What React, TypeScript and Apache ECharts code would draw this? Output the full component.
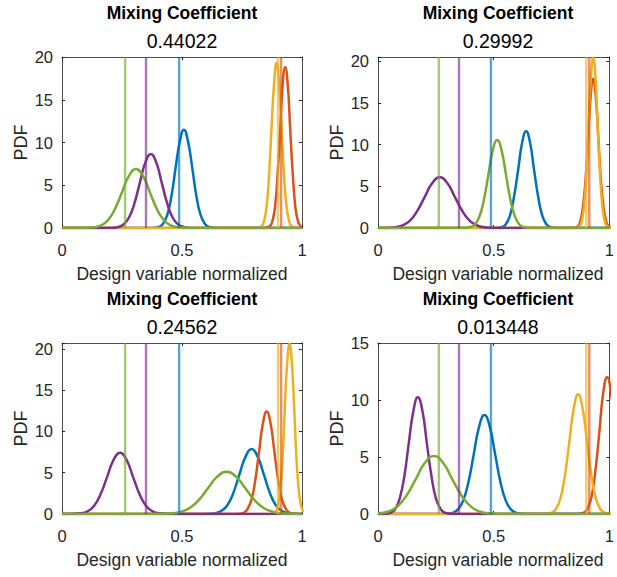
import React, { useEffect, useRef } from "react";
import * as echarts from "echarts";

// ---------- data ----------
const titleValues = ["0.44022", "0.29992", "0.24562", "0.013448"];
const yMaxes = [20, 20.5, 20.7, 15];
const xTickStep = 0.5;
const yTickStep = 5;
const curveColors = ["#0072BD", "#D95319", "#EDB120", "#7E2F8E", "#77AC30"]; // blue, red, yellow, purple, green
const refLines = [0.488, 0.913, 0.9, 0.35, 0.263]; // same order as curveColors

// Panel 1
const p1Blue = [[0, 0], [0.369, 0], [0.404, 0.13], [0.421, 0.5], [0.439, 1.56], [0.456, 3.73], [0.473, 6.97], [0.491, 10.15], [0.508, 11.5], [0.525, 10.15], [0.543, 6.97], [0.56, 3.73], [0.577, 1.56], [0.595, 0.5], [0.612, 0.13], [0.647, 0], [1, 0]];
const p1Red = [[0, 0], [0.845, 0], [0.866, 0.21], [0.877, 0.83], [0.888, 2.54], [0.898, 6.11], [0.909, 11.41], [0.919, 16.6], [0.93, 18.8], [0.941, 16.6], [0.951, 11.41], [0.962, 6.11], [0.972, 2.54], [0.983, 0.83], [0.994, 0.21], [1, 0.08]];
const p1Yellow = [[0, 0], [0.811, 0], [0.832, 0.21], [0.842, 0.85], [0.853, 2.61], [0.863, 6.27], [0.873, 11.72], [0.884, 17.04], [0.894, 19.3], [0.904, 17.04], [0.915, 11.72], [0.925, 6.27], [0.935, 2.61], [0.946, 0.85], [0.956, 0.21], [0.977, 0], [1, 0]];
const p1Purple = [[0, 0], [0.186, 0], [0.232, 0.1], [0.255, 0.38], [0.278, 1.17], [0.301, 2.81], [0.324, 5.25], [0.347, 7.64], [0.37, 8.65], [0.393, 7.64], [0.416, 5.25], [0.439, 2.81], [0.462, 1.17], [0.485, 0.38], [0.508, 0.1], [0.554, 0], [1, 0]];
const p1Green = [[0, 0], [0.077, 0], [0.135, 0.08], [0.163, 0.3], [0.192, 0.93], [0.221, 2.24], [0.25, 4.19], [0.279, 6.09], [0.308, 6.9], [0.337, 6.09], [0.366, 4.19], [0.395, 2.24], [0.424, 0.93], [0.453, 0.3], [0.481, 0.08], [0.539, 0], [1, 0]];

// Panel 2
const p2Blue = [[0, 0], [0.502, 0], [0.537, 0.13], [0.554, 0.51], [0.571, 1.57], [0.588, 3.77], [0.606, 7.04], [0.623, 10.24], [0.64, 11.6], [0.657, 10.24], [0.674, 7.04], [0.692, 3.77], [0.709, 1.57], [0.726, 0.51], [0.743, 0.13], [0.778, 0], [1, 0]];
const p2Red = [[0, 0], [0.841, 0], [0.863, 0.2], [0.874, 0.79], [0.885, 2.42], [0.897, 5.82], [0.908, 10.87], [0.919, 15.81], [0.93, 17.9], [0.941, 15.81], [0.952, 10.87], [0.963, 5.82], [0.975, 2.42], [0.986, 0.79], [0.997, 0.2], [1.019, 0]];
const p2Yellow = [[0, 0], [0.852, 0], [0.871, 0.23], [0.881, 0.9], [0.891, 2.75], [0.901, 6.63], [0.91, 12.38], [0.92, 18.01], [0.93, 20.4], [0.94, 18.01], [0.949, 12.38], [0.959, 6.63], [0.969, 2.75], [0.979, 0.9], [0.989, 0.23], [1.008, 0]];
const p2Purple = [[0, 0], [0.07, 0.07], [0.103, 0.27], [0.136, 0.82], [0.168, 1.97], [0.201, 3.68], [0.234, 5.36], [0.267, 6.07], [0.3, 5.36], [0.333, 3.68], [0.366, 1.97], [0.398, 0.82], [0.431, 0.27], [0.464, 0.07], [0.53, 0], [1, 0]];
const p2Green = [[0, 0], [0.363, 0], [0.401, 0.12], [0.42, 0.46], [0.439, 1.43], [0.458, 3.43], [0.477, 6.4], [0.496, 9.31], [0.515, 10.54], [0.534, 9.31], [0.553, 6.4], [0.572, 3.43], [0.591, 1.43], [0.61, 0.46], [0.629, 0.12], [0.667, 0], [1, 0]];

// Panel 3
const p3Blue = [[0, 0], [0.587, 0], [0.638, 0.09], [0.663, 0.35], [0.689, 1.06], [0.714, 2.56], [0.739, 4.78], [0.765, 6.95], [0.79, 7.87], [0.815, 6.95], [0.841, 4.78], [0.866, 2.56], [0.891, 1.06], [0.917, 0.35], [0.942, 0.09], [0.993, 0], [1, 0]];
const p3Red = [[0, 0], [0.724, 0], [0.756, 0.14], [0.772, 0.55], [0.789, 1.67], [0.805, 4.03], [0.821, 7.53], [0.837, 10.95], [0.853, 12.4], [0.869, 10.95], [0.885, 7.53], [0.901, 4.03], [0.917, 1.67], [0.934, 0.55], [0.95, 0.14], [0.982, 0], [1, 0]];
const p3Yellow = [[0, 0], [0.87, 0], [0.889, 0.23], [0.899, 0.91], [0.909, 2.78], [0.919, 6.7], [0.928, 12.5], [0.938, 18.19], [0.948, 20.6], [0.958, 18.19], [0.968, 12.5], [0.977, 6.7], [0.987, 2.78], [0.997, 0.91], [1.007, 0.23]];
const p3Purple = [[0, 0], [0.027, 0], [0.081, 0.08], [0.107, 0.33], [0.134, 1], [0.161, 2.41], [0.188, 4.5], [0.215, 6.55], [0.242, 7.42], [0.269, 6.55], [0.296, 4.5], [0.323, 2.41], [0.35, 1], [0.377, 0.33], [0.403, 0.08], [0.457, 0], [1, 0]];
const p3Green = [[0, 0], [0.374, 0], [0.452, 0.06], [0.491, 0.23], [0.53, 0.69], [0.569, 1.66], [0.608, 3.11], [0.647, 4.52], [0.686, 5.12], [0.725, 4.52], [0.764, 3.11], [0.803, 1.66], [0.842, 0.69], [0.881, 0.23], [0.92, 0.06], [1, 0]];

// Panel 4
const p4Blue = [[0, 0], [0.276, 0], [0.322, 0.1], [0.345, 0.38], [0.368, 1.17], [0.391, 2.82], [0.414, 5.27], [0.437, 7.66], [0.46, 8.68], [0.483, 7.66], [0.506, 5.27], [0.529, 2.82], [0.552, 1.17], [0.575, 0.38], [0.598, 0.1], [0.644, 0], [1, 0]];
const p4Red = [[0, 0], [0.857, 0], [0.89, 0.13], [0.907, 0.53], [0.924, 1.62], [0.94, 3.9], [0.957, 7.28], [0.973, 10.6], [0.99, 12], [1.007, 10.6], [1.023, 7.28]];
const p4Yellow = [[0, 0], [0.713, 0], [0.751, 0.12], [0.77, 0.46], [0.789, 1.42], [0.808, 3.41], [0.827, 6.37], [0.846, 9.27], [0.865, 10.5], [0.884, 9.27], [0.903, 6.37], [0.922, 3.41], [0.941, 1.42], [0.96, 0.46], [0.979, 0.12], [1.017, 0]];
const p4Purple = [[0, 0], [0.016, 0], [0.055, 0.11], [0.075, 0.45], [0.094, 1.38], [0.114, 3.33], [0.133, 6.22], [0.153, 9.04], [0.172, 10.24], [0.192, 9.04], [0.211, 6.22], [0.231, 3.33], [0.25, 1.38], [0.27, 0.45], [0.289, 0.11], [0.328, 0], [1, 0]];
const p4Green = [[0, 0.05], [0.046, 0.22], [0.085, 0.69], [0.124, 1.65], [0.164, 3.09], [0.203, 4.49], [0.242, 5.09], [0.281, 4.49], [0.32, 3.09], [0.36, 1.65], [0.399, 0.69], [0.438, 0.22], [0.477, 0.06], [0.556, 0], [1, 0]];

const panels = [
  [p1Blue, p1Red, p1Yellow, p1Purple, p1Green],
  [p2Blue, p2Red, p2Yellow, p2Purple, p2Green],
  [p3Blue, p3Red, p3Yellow, p3Purple, p3Green],
  [p4Blue, p4Red, p4Yellow, p4Purple, p4Green],
];

// ---------- layout ----------
const FONT = "'Liberation Sans', Arial, Helvetica, sans-serif";
const GRID_POS = [
  { left: 62, top: 57 },
  { left: 378, top: 57 },
  { left: 62, top: 343 },
  { left: 378, top: 343 },
];
const GRID_W = 240;
const GRID_H = 171;
const AXIS_COLOR = "#4d4d4d";
const TEXT_COLOR = "#262626";

function buildOption() {
  const grid: any[] = [];
  const xAxis: any[] = [];
  const yAxis: any[] = [];
  const series: any[] = [];
  const graphic: any[] = [];

  GRID_POS.forEach((g, i) => {
    grid.push({ left: g.left, top: g.top, width: GRID_W, height: GRID_H, show: false });
    const tick = { show: true, inside: true, length: 3, lineStyle: { color: TEXT_COLOR, width: 1 } };
    const line = { show: true, onZero: false, lineStyle: { color: AXIS_COLOR, width: 1 } };
    xAxis.push({
      gridIndex: i, type: "value", min: 0, max: 1, interval: xTickStep, position: "bottom",
      axisLine: line, axisTick: tick, splitLine: { show: false },
      axisLabel: { show: true, margin: 13, fontSize: 16.5, color: TEXT_COLOR, fontFamily: FONT },
    });
    xAxis.push({
      gridIndex: i, type: "value", min: 0, max: 1, interval: xTickStep, position: "top",
      axisLine: line, axisTick: tick, splitLine: { show: false }, axisLabel: { show: false },
    });
    yAxis.push({
      gridIndex: i, type: "value", min: 0, max: yMaxes[i], interval: yTickStep, position: "left",
      axisLine: line, axisTick: tick, splitLine: { show: false },
      axisLabel: {
        show: true, margin: 9, fontSize: 16.5, color: TEXT_COLOR, fontFamily: FONT,
        formatter: (v: number) => (Math.abs(v % yTickStep) < 1e-9 ? String(v) : ""),
      },
    });
    yAxis.push({
      gridIndex: i, type: "value", min: 0, max: yMaxes[i], interval: yTickStep, position: "right",
      axisLine: line, axisTick: tick, splitLine: { show: false }, axisLabel: { show: false },
    });

    panels[i].forEach((curve, j) => {
      series.push({
        type: "line", xAxisIndex: 2 * i, yAxisIndex: 2 * i, data: curve,
        symbol: "none", showSymbol: false, smooth: 0.5,
        lineStyle: { color: curveColors[j], width: 2.5 }, itemStyle: { color: curveColors[j] },
        silent: true,
      });
    });
    refLines.forEach((v, j) => {
      series.push({
        type: "line", xAxisIndex: 2 * i, yAxisIndex: 2 * i, data: [[v, 0], [v, yMaxes[i]]],
        symbol: "none", showSymbol: false,
        lineStyle: { color: curveColors[j], width: 2.4, opacity: 0.65 }, itemStyle: { color: curveColors[j] },
        silent: true,
      });
    });

    const cx = g.left + GRID_W / 2;
    const dy = g.top - 57;
    graphic.push({
      type: "text", x: cx, y: 13 + dy,
      style: { text: "Mixing Coefficient", fontSize: 17.5, fontWeight: "bold", fontFamily: FONT, fill: "#000", align: "center", verticalAlign: "middle" },
    });
    graphic.push({
      type: "text", x: cx, y: 41 + dy,
      style: { text: titleValues[i], fontSize: 19.5, fontFamily: FONT, fill: "#000", align: "center", verticalAlign: "middle" },
    });
    graphic.push({
      type: "text", x: cx, y: 274 + dy,
      style: { text: "Design variable normalized", fontSize: 17.5, fontFamily: FONT, fill: TEXT_COLOR, align: "center", verticalAlign: "middle" },
    });
    graphic.push({
      type: "text", x: g.left - 41, y: g.top + GRID_H / 2, rotation: Math.PI / 2,
      style: { text: "PDF", fontSize: 18, fontFamily: FONT, fill: TEXT_COLOR, align: "center", verticalAlign: "middle" },
    });
  });

  return { animation: false, backgroundColor: "#ffffff", grid, xAxis, yAxis, series, graphic };
}

export default function App() {
  const ref = useRef<HTMLDivElement>(null);
  useEffect(() => {
    if (!ref.current) return;
    const chart = echarts.init(ref.current, undefined, { renderer: "svg" });
    chart.setOption(buildOption() as any);
    return () => chart.dispose();
  }, []);
  return (
    <div
      ref={ref}
      style={{ position: "fixed", left: 0, top: 0, width: 617, height: 577, background: "#fff" }}
    />
  );
}
